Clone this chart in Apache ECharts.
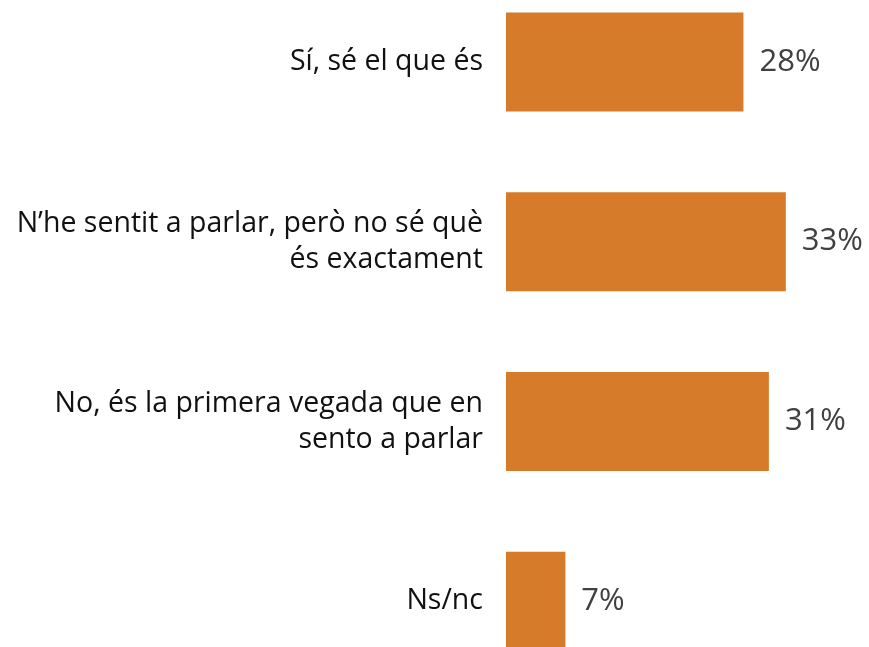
<!DOCTYPE html>
<html>
<head>
<meta charset="utf-8">
<script src="https://cdn.jsdelivr.net/npm/echarts@6/dist/echarts.min.js"></script>
<style>html,body{margin:0;padding:0;background:#fff;overflow:hidden;width:869px;height:647px}#c{width:869px;height:719px;margin-top:-28px}</style>
</head>
<body>
<div id="c"></div>
<script>
var categories = ["Sí, sé el que és", "N’he sentit a parlar, però no sé què\nés exactament", "No, és la primera vegada que en\nsento a parlar", "Ns/nc"];
var values = [28, 33, 31, 7];
var valueLabels = ["28%", "33%", "31%", "7%"];

var chart = echarts.init(document.getElementById('c'));
chart.setOption({
  animation: false,
  grid: {left: 506, top: 0, width: 339.2, height: 719, containLabel: false},
  xAxis: {type: 'value', min: 0, max: 40, show: false},
  yAxis: {
    type: 'category', inverse: true, data: categories,
    axisLine: {show: false}, axisTick: {show: false},
    axisLabel: {margin: 23, fontSize: 28.5, color: '#111', fontFamily: 'Open Sans', lineHeight: 36, align: 'right'}
  },
  series: [{
    type: 'bar', data: values, barWidth: 99,
    itemStyle: {color: '#D67B2A'},
    label: {show: true, position: 'right', distance: 16, fontSize: 31, color: '#404040', fontFamily: 'Open Sans',
      formatter: function(p){ return valueLabels[p.dataIndex]; }}
  }]
});
</script>
</body>
</html>
